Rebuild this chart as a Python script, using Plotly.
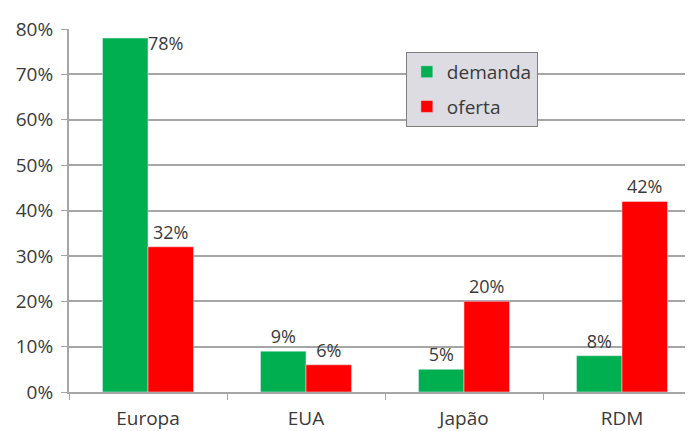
import plotly.graph_objects as go

# Data
regioes = ["Europa", "EUA", "Japão", "RDM"]
demanda = [78, 9, 5, 8]
oferta = [32, 6, 20, 42]
y_ticks = [0, 10, 20, 30, 40, 50, 60, 70, 80]
y_labels = [f"{v}%" for v in y_ticks]

green = "#00b050"
red = "#ff0000"
grid = "#a6a6a6"
txt = "#3a3a3a"
font_family = "Open Sans, Arial, sans-serif"

fig = go.Figure()

# Demanda bars (first label drawn as annotation to the right of the bar)
fig.add_trace(
    go.Bar(
        x=regioes,
        y=demanda,
        name="demanda",
        marker_color=green,
        text=[""] + [f"{v}%" for v in demanda[1:]],
        textposition="outside",
        cliponaxis=False,
        textfont=dict(size=18, color=txt, family=font_family),
        legendgroup="d",
    )
)

# Oferta bars
fig.add_trace(
    go.Bar(
        x=regioes,
        y=oferta,
        name="oferta",
        marker_color=red,
        text=[f"{v}%" for v in oferta],
        textposition="outside",
        cliponaxis=False,
        textfont=dict(size=18, color=txt, family=font_family),
        legendgroup="o",
    )
)

fig.add_annotation(
    x=0,
    y=demanda[0],
    xref="x",
    yref="y",
    text=f"{demanda[0]}%",
    showarrow=False,
    xanchor="left",
    yanchor="middle",
    xshift=-2,
    yshift=-5,
    font=dict(size=18, color=txt, family=font_family),
)

# the page body has an 8px margin, so margins are offset by 8
fig.update_layout(
    width=693,
    height=423,
    margin=dict(l=61, r=0, t=21, b=39),
    paper_bgcolor="white",
    plot_bgcolor="white",
    barmode="group",
    bargap=0.424,
    bargroupgap=0,
    font=dict(family=font_family, size=18, color=txt),
    legend=dict(
        x=0.533,
        y=0.937,
        xanchor="left",
        yanchor="top",
        bgcolor="#dcdce2",
        bordercolor="#7f7f7f",
        borderwidth=1,
        traceorder="grouped",
        tracegroupgap=7,
        font=dict(size=19, color=txt, family=font_family),
        itemwidth=30,
    ),
    xaxis=dict(
        range=[-0.5, 3.5],
        showgrid=False,
        showline=True,
        linecolor=grid,
        linewidth=1.5,
        ticks="outside",
        tickson="boundaries",
        ticklen=6,
        tickcolor=grid,
        ticklabelstandoff=8,
        tickfont=dict(size=19, color=txt),
    ),
    yaxis=dict(
        range=[0, 80],
        tickmode="array",
        tickvals=y_ticks,
        ticktext=y_labels,
        showgrid=True,
        gridcolor=grid,
        gridwidth=1.5,
        showline=True,
        linecolor=grid,
        linewidth=2,
        ticks="outside",
        ticklen=6,
        tickcolor=grid,
        ticklabelstandoff=4,
        zeroline=False,
        tickfont=dict(size=19, color=txt),
    ),
)

fig.write_html("out.html")
